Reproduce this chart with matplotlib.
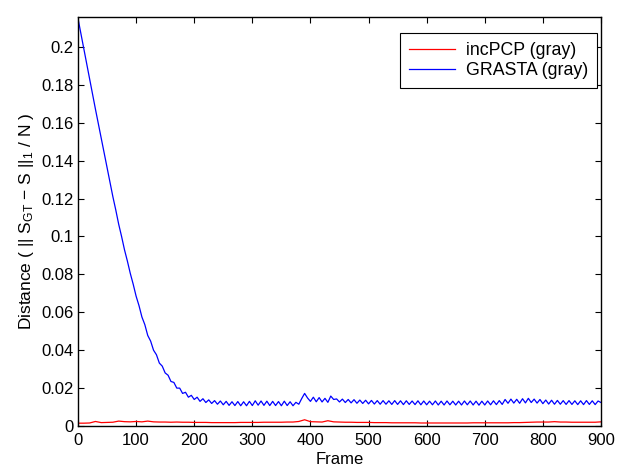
import numpy as np
import matplotlib
matplotlib.use("Agg")
import matplotlib.pyplot as plt
from matplotlib.ticker import FormatStrFormatter

plt.rcParams['font.family'] = ['Liberation Sans', 'DejaVu Sans']
plt.rcParams['mathtext.fontset'] = 'custom'
plt.rcParams['mathtext.rm'] = 'Liberation Sans'
plt.rcParams['mathtext.it'] = 'Liberation Sans'

# GRASTA distance, one value every 5 frames (0..900)
grasta_frames = np.arange(0, 901, 5)
grasta = [
    0.2150, 0.2070, 0.1990, 0.1910, 0.1830, 0.1752, 0.1672, 0.1595, 0.1515, 0.1440,
    0.1362, 0.1288, 0.1210, 0.1140, 0.1065, 0.1000, 0.0930, 0.0870, 0.0805, 0.0748,
    0.0685, 0.0635, 0.0575, 0.0535, 0.0478, 0.0448, 0.0400, 0.0376, 0.0332, 0.0316,
    0.0280, 0.0268, 0.0235, 0.0230, 0.0200, 0.0200, 0.0172, 0.0178, 0.0152, 0.0162,
    0.0140, 0.0152, 0.0130, 0.0144, 0.0124, 0.0138, 0.0119, 0.0134, 0.0115, 0.0132,
    0.0112, 0.0130, 0.0109, 0.0128, 0.0108, 0.0129, 0.0107, 0.0128, 0.0107, 0.0130,
    0.0108, 0.0133, 0.0110, 0.0132, 0.0109, 0.0131, 0.0108, 0.0130, 0.0108, 0.0129,
    0.0107, 0.0131, 0.0108, 0.0128, 0.0107, 0.0125, 0.0115, 0.0145, 0.0172, 0.0148,
    0.0130, 0.0152, 0.0128, 0.0150, 0.0127, 0.0146, 0.0125, 0.0158, 0.0140, 0.0143,
    0.0127, 0.0142, 0.0124, 0.0140, 0.0122, 0.0139, 0.0120, 0.0137, 0.0119, 0.0136,
    0.0117, 0.0135, 0.0116, 0.0134, 0.0115, 0.0134, 0.0115, 0.0133, 0.0114, 0.0134,
    0.0114, 0.0133, 0.0113, 0.0133, 0.0114, 0.0132, 0.0113, 0.0133, 0.0112, 0.0132,
    0.0112, 0.0131, 0.0112, 0.0132, 0.0111, 0.0131, 0.0111, 0.0132, 0.0112, 0.0131,
    0.0111, 0.0131, 0.0111, 0.0132, 0.0112, 0.0132, 0.0111, 0.0131, 0.0110, 0.0131,
    0.0111, 0.0132, 0.0112, 0.0133, 0.0113, 0.0134, 0.0114, 0.0140, 0.0120, 0.0142,
    0.0121, 0.0141, 0.0120, 0.0144, 0.0122, 0.0146, 0.0124, 0.0142, 0.0121, 0.0140,
    0.0118, 0.0137, 0.0116, 0.0136, 0.0115, 0.0135, 0.0115, 0.0134, 0.0114, 0.0134,
    0.0114, 0.0133, 0.0113, 0.0133, 0.0113, 0.0134, 0.0114, 0.0133, 0.0113, 0.0132,
    0.0124,
]

# incPCP distance, one value every 10 frames (0..900)
incpcp_frames = np.arange(0, 901, 10)
incpcp = [
    0.0015, 0.0015, 0.0016, 0.0024, 0.0018, 0.0019, 0.0020, 0.0026, 0.0023, 0.0022,
    0.0024, 0.0022, 0.0026, 0.0022, 0.0021, 0.0021, 0.0020, 0.0021, 0.0020, 0.0020,
    0.0019, 0.0019, 0.0019, 0.0018, 0.0018, 0.0018, 0.0018, 0.0018, 0.0019, 0.0019,
    0.0019, 0.0019, 0.0020, 0.0020, 0.0020, 0.0020, 0.0021, 0.0021, 0.0024, 0.0033,
    0.0023, 0.0022, 0.0021, 0.0028, 0.0022, 0.0021, 0.0020, 0.0020, 0.0019, 0.0019,
    0.0019, 0.0018, 0.0018, 0.0018, 0.0017, 0.0017, 0.0017, 0.0017, 0.0017, 0.0016,
    0.0016, 0.0016, 0.0016, 0.0016, 0.0016, 0.0016, 0.0016, 0.0016, 0.0017, 0.0017,
    0.0017, 0.0017, 0.0017, 0.0017, 0.0017, 0.0018, 0.0018, 0.0019, 0.0020, 0.0021,
    0.0021, 0.0021, 0.0023, 0.0021, 0.0021, 0.0020, 0.0020, 0.0020, 0.0020, 0.0020,
    0.0022,
]

fig = plt.figure(figsize=(6.22, 4.68), dpi=100)
ax = fig.add_axes([0.1254, 0.0897, 0.8408, 0.874])

ax.plot(incpcp_frames, incpcp, color='red', lw=0.9, label='incPCP (gray)')
ax.plot(grasta_frames, grasta, color='blue', lw=0.9, label='GRASTA (gray)')

ax.set_xlim(0, 900)
ax.set_ylim(0, 0.2158)
ax.set_xticks(np.arange(0, 901, 100))
ax.set_yticks(np.arange(0, 0.201, 0.02))
ax.yaxis.set_major_formatter(FormatStrFormatter('%g'))
ax.tick_params(direction='in', top=True, right=True, labelsize=12, length=4, width=0.8)
ax.tick_params(axis='y', pad=3)
ax.tick_params(axis='x', pad=5)
for s in ax.spines.values():
    s.set_linewidth(1.0)

ax.set_xlabel('Frame', fontsize=12, labelpad=3)
ax.set_ylabel(r'Distance ( || S$_\mathregular{GT}$ $-$ S ||$_\mathregular{1}$ / N )', fontsize=12.5, labelpad=4)

leg = ax.legend(loc='upper right', bbox_to_anchor=(0.992, 0.961), borderaxespad=0,
                fontsize=12.8, fancybox=False, edgecolor='black', framealpha=1,
                handlelength=2.6, handletextpad=0.6, borderpad=0.5, labelspacing=0.2)
leg.get_frame().set_linewidth(0.8)

fig.savefig('out.png', dpi=100)
